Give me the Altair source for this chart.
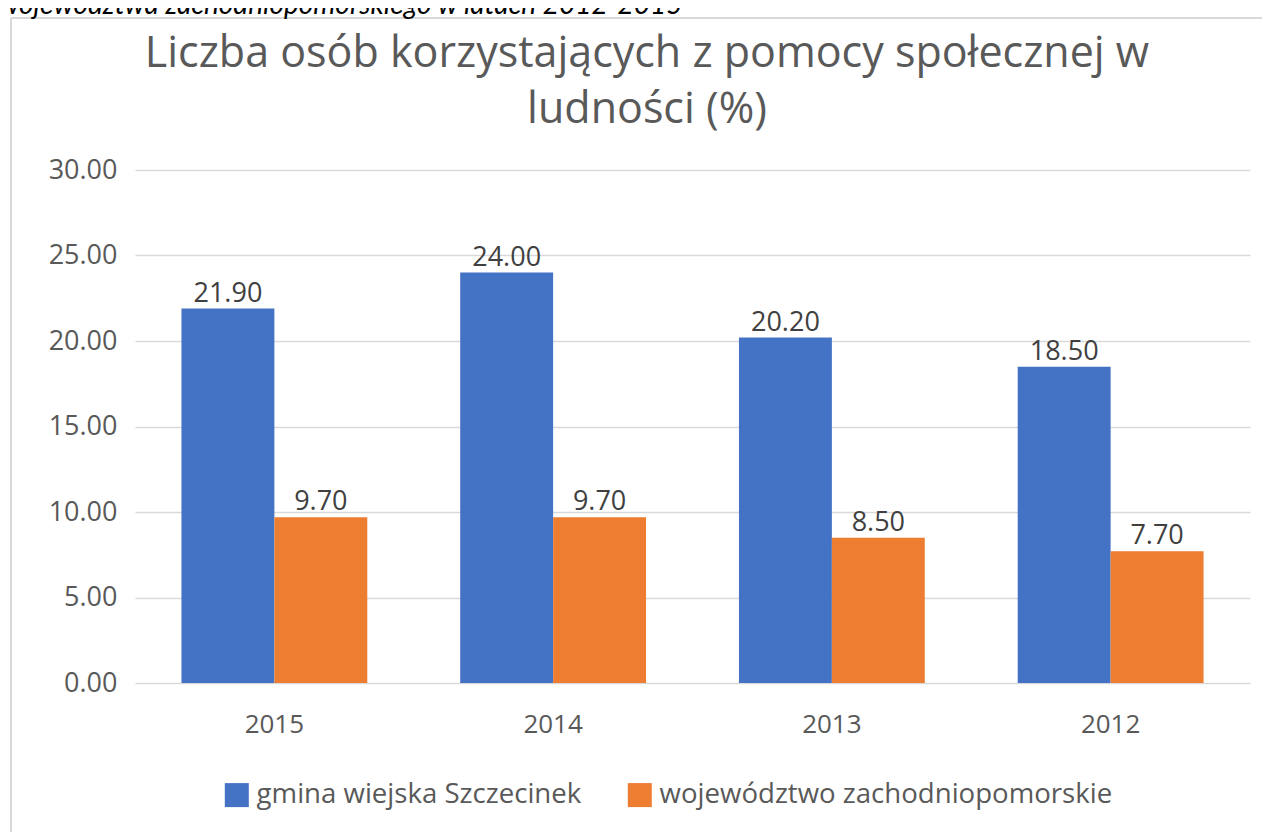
import altair as alt
import pandas as pd

years = ["2015", "2014", "2013", "2012"]
series_names = ["gmina wiejska Szczecinek", "województwo zachodniopomorskie"]
gmina = [21.90, 24.00, 20.20, 18.50]
woj = [9.70, 9.70, 8.50, 7.70]
colors = ["#4472C4", "#ED7D31"]
y_ticks = [0, 5, 10, 15, 20, 25, 30]
title_lines = ["Liczba osób korzystających z pomocy społecznej w", "ludności (%)"]
header_text = "województwa zachodniopomorskiego w latach 2012-2015"

rows = []
for i, yr in enumerate(years):
    rows.append({"rok": yr, "seria": series_names[0], "wartosc": gmina[i]})
    rows.append({"rok": yr, "seria": series_names[1], "wartosc": woj[i]})
df = pd.DataFrame(rows)

FONT = "Open Sans"
GREY = "#595959"

x_enc = alt.X("rok:N", sort=years,
              scale=alt.Scale(paddingInner=1/3, paddingOuter=1/6),
              axis=alt.Axis(title=None, labelAngle=0, ticks=False, domain=False,
                            labelFont=FONT, labelFontSize=26, labelColor=GREY,
                            labelPadding=28))
xoff = alt.XOffset("seria:N", sort=series_names)
y_enc = alt.Y("wartosc:Q",
              scale=alt.Scale(domain=[0, 30], nice=False),
              axis=alt.Axis(title=None, values=y_ticks, format=".2f", ticks=False,
                            domain=False, grid=True, gridColor="#d9d9d9", gridWidth=1.5,
                            labelFont=FONT, labelFontSize=27, labelColor=GREY,
                            labelPadding=18))

base = alt.Chart(df)

bars = base.mark_bar().encode(
    x=x_enc, xOffset=xoff, y=y_enc,
    color=alt.Color("seria:N", sort=series_names,
                    scale=alt.Scale(domain=series_names, range=colors),
                    legend=alt.Legend(title=None, orient="none", direction="horizontal",
                                      legendX=88, legendY=611, padding=0,
                                      symbolType="square", symbolSize=576,
                                      symbolStrokeWidth=0, labelFont=FONT,
                                      labelFontSize=27.6, labelColor=GREY,
                                      labelLimit=800, labelOffset=6,
                                      columnPadding=44))
)

labels = base.mark_text(baseline="alphabetic", dy=-7, font=FONT, fontSize=27,
                        color="#404040").encode(
    x=alt.X("rok:N", sort=years), xOffset=xoff, y=alt.Y("wartosc:Q"),
    text=alt.Text("wartosc:Q", format=".2f"),
)

title_df = pd.DataFrame({"t": [title_lines]})
title = alt.Chart(title_df).mark_text(font=FONT, fontSize=43, color=GREY,
                                      baseline="alphabetic", align="center",
                                      lineHeight=56).encode(
    x=alt.value(512), y=alt.value(-103), text="t:N")

header_df = pd.DataFrame({"t": [header_text]})
header = alt.Chart(header_df).mark_text(font="Lato", fontSize=28, fontStyle="italic",
                                        color="#000000", baseline="alphabetic",
                                        align="left").encode(
    x=alt.value(-136), y=alt.value(-156), text="t:N")

frame_left = alt.Chart(header_df).mark_rule(color="#d9d9d9", strokeWidth=2).encode(
    x=alt.value(-124), y=alt.value(-152), y2=alt.value(700))
frame_top = alt.Chart(header_df).mark_rule(color="#d9d9d9", strokeWidth=2).encode(
    x=alt.value(-124), x2=alt.value(1140), y=alt.value(-152))

chart = alt.layer(frame_left, frame_top, header, bars, labels, title).properties(
    width=1115, height=513,
    autosize=alt.AutoSizeParams(type="none"),
    padding={"left": 127, "top": 162, "right": 12, "bottom": 149},
).configure_view(stroke=None).resolve_scale(x="shared")

chart.save("out.html", embed_options={"renderer": "svg", "actions": False})
